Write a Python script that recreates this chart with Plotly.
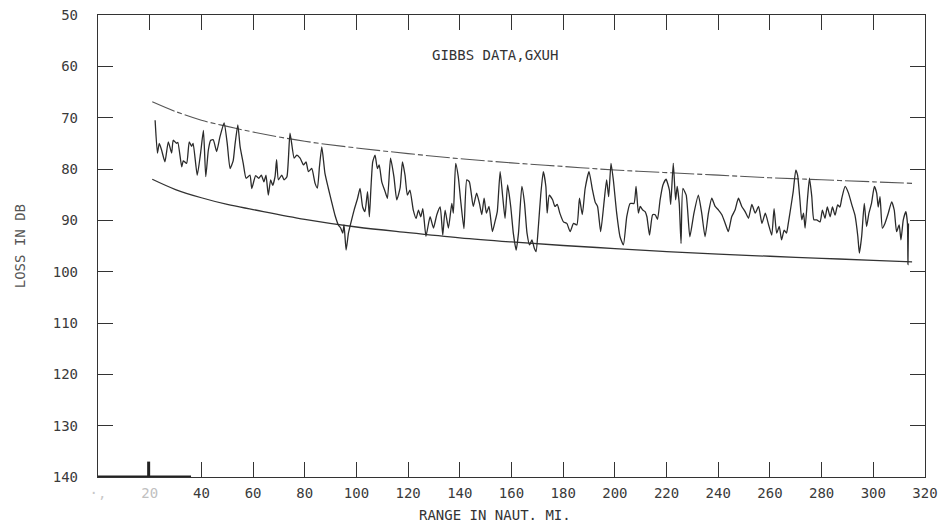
import plotly.graph_objects as go

# ---- data ----
range_nmi = [22.1, 23.0, 23.7, 24.6, 25.9, 27.2, 28.5, 29.1, 30.4, 30.9, 32.4, 33.0, 34.3, 35.3, 36.2, 36.8,
             38.4, 39.7, 40.8, 41.7, 42.7, 43.6, 44.6, 45.9, 47.2, 48.8, 50.0, 51.1, 52.3, 53.0, 54.1, 55.0,
             56.2, 57.3, 58.8, 59.5, 61.0, 62.2, 63.2, 64.2, 65.0, 65.9, 66.8, 67.6, 68.5, 69.1, 69.8, 71.1,
             72.0, 73.1, 74.3, 75.9, 76.9, 78.2, 79.5, 80.5, 81.4, 82.7, 84.0, 84.9, 85.7, 86.6, 87.8, 89.1,
             90.4, 91.7, 93.0, 93.9, 94.7, 95.2, 96.0, 96.9, 97.8, 99.1, 100.4, 101.4, 102.4, 103.3, 104.3,
             105.0, 105.6, 106.3, 107.2, 108.1, 108.8, 109.8, 111.1, 112.0, 113.2, 114.5, 115.6, 116.9, 117.8,
             118.8, 119.7, 120.7, 122.0, 123.1, 124.0, 124.9, 125.7, 126.9, 128.5, 129.8, 131.1, 132.4, 133.4,
             134.3, 135.6, 136.9, 137.5, 138.4, 139.4, 140.3, 141.6, 142.7, 143.7, 145.2, 146.5, 147.6, 148.5,
             149.4, 150.3, 151.3, 152.6, 153.6, 154.5, 155.6, 156.6, 157.5, 158.5, 159.7, 160.7, 161.8, 162.7,
             164.0, 165.0, 166.0, 167.0, 167.9, 168.8, 169.5, 170.4, 171.3, 172.3, 173.3, 173.8, 174.6, 175.9,
             176.8, 177.7, 178.7, 180.1, 181.4, 182.7, 184.0, 185.3, 186.3, 187.4, 188.5, 190.0, 191.3, 192.4,
             193.3, 194.5, 195.8, 196.8, 197.6, 198.5, 199.4, 200.7, 202.0, 203.3, 204.6, 205.9, 207.4, 208.2,
             209.1, 209.8, 210.8, 211.7, 212.4, 213.4, 214.6, 215.6, 216.5, 217.5, 218.6, 219.8, 221.1, 221.6,
             222.6, 223.5, 224.1, 224.9, 225.6, 226.3, 227.6, 229.0, 230.6, 232.3, 233.6, 234.9, 236.2, 237.5,
             238.8, 240.1, 241.4, 242.7, 243.9, 245.2, 246.5, 247.8, 249.1, 250.4, 251.7, 253.0, 254.3, 255.6,
             256.9, 258.2, 259.5, 260.7, 261.6, 262.6, 263.6, 264.5, 265.5, 266.4, 267.1, 268.1, 269.0, 270.0,
             270.7, 271.6, 272.3, 273.0, 273.6, 274.5, 275.3, 276.2, 277.0, 278.1, 279.4, 280.3, 281.3, 282.2,
             283.3, 284.2, 285.2, 286.2, 287.1, 287.8, 289.1, 290.4, 291.7, 292.9, 294.0, 294.6, 295.5, 296.5,
             297.4, 298.3, 299.3, 300.4, 301.3, 301.9, 302.6, 303.5, 304.5, 305.8, 307.1, 308.1, 309.0, 310.0,
             310.7, 311.6, 312.6, 313.2, 313.4, 313.6]

loss_db = [70.5, 76.9, 75.0, 76.3, 78.6, 74.7, 76.9, 74.4, 75.0, 74.8, 79.6, 78.4, 78.9, 74.7, 75.6, 75.0,
           81.2, 76.9, 72.5, 81.5, 76.3, 74.4, 74.3, 76.6, 73.7, 71.0, 75.0, 79.9, 78.4, 75.3, 71.4, 75.7,
           78.9, 81.8, 81.2, 83.8, 81.3, 81.8, 81.2, 82.5, 81.2, 85.1, 82.1, 83.2, 81.5, 78.2, 82.1, 81.2,
           82.1, 81.5, 73.0, 77.9, 77.3, 77.9, 79.2, 78.6, 80.5, 79.9, 82.8, 83.7, 79.5, 75.7, 80.8, 83.7,
           86.4, 89.0, 90.9, 91.5, 92.5, 90.9, 95.8, 92.5, 90.6, 88.0, 85.8, 83.8, 87.4, 88.3, 84.4,
           89.3, 83.8, 78.6, 77.3, 79.9, 79.2, 82.5, 84.4, 85.7, 77.9, 81.5, 86.0, 83.7, 78.6,
           81.2, 85.1, 84.1, 88.0, 89.6, 88.0, 89.3, 87.7, 93.1, 89.3, 91.5, 88.9, 87.4, 92.9,
           88.0, 91.5, 86.7, 88.6, 78.9, 81.5, 86.0, 91.6, 82.1, 82.5, 87.3, 84.7, 86.7, 88.9,
           85.7, 88.6, 87.3, 92.2, 90.3, 88.3, 80.5, 85.4, 89.6, 83.1, 87.3, 92.5, 95.8, 92.5,
           83.4, 86.5, 92.5, 94.8, 93.8, 95.4, 96.1, 91.2, 85.1, 80.5, 83.4, 88.6, 85.1, 86.0,
           87.3, 86.9, 88.6, 90.3, 90.6, 92.2, 90.6, 90.9, 85.7, 88.9, 83.8, 80.5, 84.0, 86.5,
           87.3, 92.2, 86.5, 82.1, 85.4, 78.9, 82.1, 88.6, 93.2, 94.8, 89.3, 86.7, 86.7, 83.4,
           88.6, 87.3, 88.0, 88.3, 89.3, 92.9, 88.9, 88.9, 89.8, 86.0, 83.1, 82.0, 84.1, 86.9,
           78.9, 86.0, 83.4, 86.7, 94.5, 83.8, 85.1, 93.2, 88.6, 85.1, 88.6, 93.2, 88.6, 85.7,
           87.3, 88.0, 88.9, 90.6, 92.2, 89.3, 88.0, 85.7, 87.3, 88.3, 89.6, 86.9, 88.6, 87.3,
           90.6, 88.6, 90.9, 92.9, 87.7, 92.5, 91.2, 93.8, 91.9, 92.5, 90.6, 87.4, 84.4, 80.2,
           81.2, 86.0, 89.9, 88.6, 91.5, 86.0, 81.8, 85.4, 89.9, 89.9, 90.3, 88.0, 89.6, 87.4,
           89.3, 87.4, 89.0, 87.0, 87.4, 85.7, 83.4, 84.7, 87.0, 89.0, 93.1, 96.4, 93.1, 86.7,
           91.2, 88.6, 86.7, 83.4, 84.7, 87.4, 85.4, 91.5, 90.6, 88.6, 86.4, 88.0, 92.2, 90.9,
           93.8, 89.9, 88.3, 90.6, 98.6, 90.6]

bound_range = [21, 30, 40, 50, 60, 80, 100, 120, 140, 160, 180, 200, 220, 240, 260, 280, 300, 315]
upper_bound = [66.9, 68.8, 70.5, 71.7, 72.8, 74.6, 75.9, 77.0, 78.0, 78.8, 79.5, 80.2, 80.7, 81.2, 81.7, 82.1, 82.5, 82.8]
lower_bound = [82.0, 84.0, 85.6, 86.9, 87.9, 89.8, 91.3, 92.4, 93.4, 94.2, 94.9, 95.5, 96.1, 96.6, 97.0, 97.4, 97.8, 98.1]

x_ticks = list(range(0, 321, 20))
y_ticks = list(range(50, 141, 10))
x_ticktext = [str(v) for v in x_ticks]
x_ticktext[0] = '<span style="color:#c8c8c8">·,</span>'
x_ticktext[1] = '<span style="color:#c0c0c0">20</span>'

INK = "#2b2b2b"
FONT = "DejaVu Sans Mono"

fig = go.Figure()
fig.add_trace(go.Scatter(x=bound_range, y=upper_bound, mode="lines", line_shape="spline",
                         line=dict(color="#555555", width=1.1, dash="24px,3px,5px,3px"),
                         hoverinfo="skip"))
fig.add_trace(go.Scatter(x=bound_range, y=lower_bound, mode="lines", line_shape="spline",
                         line=dict(color="#333333", width=1.3), hoverinfo="skip"))
fig.add_trace(go.Scatter(x=range_nmi, y=loss_db, mode="lines",
                         line=dict(color=INK, width=1.3, shape="spline", smoothing=0.5)))

axis_common = dict(showgrid=False, zeroline=False, showline=True, linecolor="#333333", linewidth=1.4,
                   mirror="ticks", ticks="inside", ticklen=15, tickwidth=1.2, tickcolor="#333333",
                   automargin=False,
                   tickfont=dict(family=FONT, size=14, color="#3a3a3a"))

fig.update_xaxes(range=[0, 320], tickmode="array", tickvals=x_ticks, ticktext=x_ticktext,
                 ticklabelstandoff=3, **axis_common)
fig.update_yaxes(range=[140, 50], tickmode="array", tickvals=y_ticks, ticklabelstandoff=16, **axis_common)

# bold stub at the lower left of the frame
fig.add_shape(type="line", xref="x", yref="y", x0=0, x1=36, y0=140, y1=140,
              line=dict(color="#222222", width=3))
fig.add_shape(type="line", xref="x", yref="y", x0=19.6, x1=19.6, y0=140, y1=137,
              line=dict(color="#222222", width=3))

fig.add_annotation(text="GIBBS DATA,GXUH", xref="paper", yref="paper", x=0.48, y=0.913,
                   xanchor="center", yanchor="middle",
                   showarrow=False, font=dict(family=FONT, size=14, color="#333333"))
fig.add_annotation(text="RANGE IN NAUT. MI.", xref="paper", yref="paper", x=0.48, y=-0.083,
                   xanchor="center", yanchor="middle",
                   showarrow=False, font=dict(family=FONT, size=14, color="#333333"))
fig.add_annotation(text="LOSS IN DB", xref="paper", yref="paper", x=-0.094, y=0.5, textangle=-90,
                   xanchor="center", yanchor="middle",
                   showarrow=False, font=dict(family=FONT, size=14, color="#555555"))

fig.update_layout(width=941, height=528, autosize=False, showlegend=False,
                  margin=dict(l=98, r=16, t=15, b=51, autoexpand=False),
                  plot_bgcolor="white", paper_bgcolor="white",
                  font=dict(family=FONT, size=14, color="#333333"))

fig.write_html("out.html")
